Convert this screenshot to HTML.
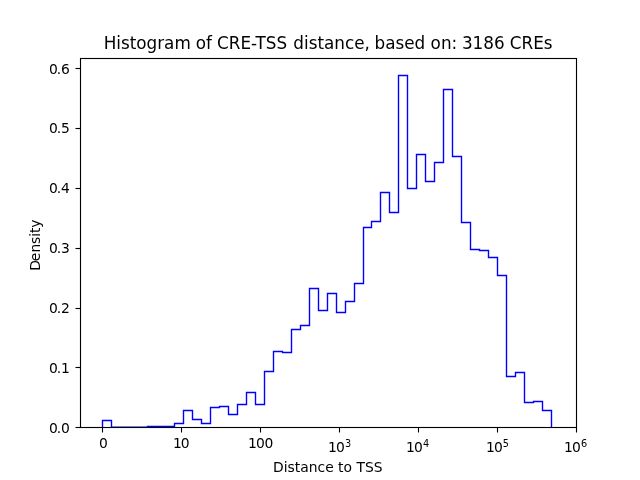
<!DOCTYPE html>
<html lang="en"><head><meta charset="utf-8"><title>Histogram of CRE-TSS distance</title>
<style>
html,body{margin:0;padding:0;background:#fff;overflow:hidden}
svg{display:block}
text{font-family:"DejaVu Sans","Liberation Sans",sans-serif;fill:#000;white-space:pre}
.t10{font-size:13.889px}
.t7{font-size:9.722px}
.t12{font-size:16.806px}
</style></head><body>
<svg width="640" height="480" viewBox="0 0 640 480">
<rect x="0" y="0" width="640" height="480" fill="#ffffff"/>
<path d="M102.5 427.3 L102.5 420.5 L111.5 420.5 L111.5 427.3 L120.5 427.3 L129.5 427.3 L138.5 427.3 L147.5 427.3 L147.5 426.5 L156.5 426.5 L165.5 426.5 L174.5 426.5 L174.5 423.5 L183.5 423.5 L183.5 410.5 L192.5 410.5 L192.5 419.5 L201.5 419.5 L201.5 423.5 L210.5 423.5 L210.5 407.5 L219.5 407.5 L219.5 406.5 L228.5 406.5 L228.5 414.5 L237.5 414.5 L237.5 404.5 L246.5 404.5 L246.5 392.5 L255.5 392.5 L255.5 404.5 L264.5 404.5 L264.5 371.5 L273.5 371.5 L273.5 351.5 L282.5 351.5 L282.5 352.5 L291.5 352.5 L291.5 329.5 L300.5 329.5 L300.5 325.5 L309.5 325.5 L309.5 288.5 L318.5 288.5 L318.5 310.5 L327.5 310.5 L327.5 293.5 L336.5 293.5 L336.5 312.5 L345.5 312.5 L345.5 301.5 L354.5 301.5 L354.5 283.5 L363.5 283.5 L363.5 227.5 L371.5 227.5 L371.5 221.5 L380.5 221.5 L380.5 192.5 L389.5 192.5 L389.5 212.5 L398.5 212.5 L398.5 75.5 L407.5 75.5 L407.5 188.5 L416.5 188.5 L416.5 154.5 L425.5 154.5 L425.5 181.5 L434.5 181.5 L434.5 162.5 L443.5 162.5 L443.5 89.5 L452.5 89.5 L452.5 156.5 L461.5 156.5 L461.5 222.5 L470.5 222.5 L470.5 249.5 L479.5 249.5 L479.5 250.5 L488.5 250.5 L488.5 257.5 L497.5 257.5 L497.5 275.5 L506.5 275.5 L506.5 376.5 L515.5 376.5 L515.5 372.5 L524.5 372.5 L524.5 402.5 L533.5 402.5 L533.5 401.5 L542.5 401.5 L542.5 410.5 L551.5 410.5 L551.5 427.3" fill="none" stroke="#0000ff" stroke-width="1.389" stroke-linejoin="miter" stroke-linecap="butt"/>
<g stroke="#000" stroke-width="1.111" fill="none">
<line x1="102.5" y1="427.5" x2="102.5" y2="432.50"/>
<line x1="181.5" y1="427.5" x2="181.5" y2="432.50"/>
<line x1="260.5" y1="427.5" x2="260.5" y2="432.50"/>
<line x1="339.5" y1="427.5" x2="339.5" y2="432.50"/>
<line x1="418.5" y1="427.5" x2="418.5" y2="432.50"/>
<line x1="497.5" y1="427.5" x2="497.5" y2="432.50"/>
<line x1="576.5" y1="427.5" x2="576.5" y2="432.50"/>
<line x1="80.5" y1="427.5" x2="75.50" y2="427.5"/>
<line x1="80.5" y1="367.5" x2="75.50" y2="367.5"/>
<line x1="80.5" y1="308.5" x2="75.50" y2="308.5"/>
<line x1="80.5" y1="248.5" x2="75.50" y2="248.5"/>
<line x1="80.5" y1="188.5" x2="75.50" y2="188.5"/>
<line x1="80.5" y1="128.5" x2="75.50" y2="128.5"/>
<line x1="80.5" y1="68.5" x2="75.50" y2="68.5"/>
<rect x="80.5" y="58.5" width="496.0" height="369.0" stroke-linejoin="miter"/>
</g>
<text class="t10" x="99.05" y="448.0">0</text>
<text class="t10" x="172.9 180.85" y="448.0">10</text>
<text class="t10" x="248.1 255.9 264.5" y="448.0">100</text>
<text class="t10" x="328.00 335.90" y="452.0">10<tspan class="t7" x="345.00" dy="-5.17">3</tspan></text>
<text class="t10" x="406.00 413.90" y="452.0">10<tspan class="t7" x="423.00" dy="-5.17">4</tspan></text>
<text class="t10" x="486.00 493.90" y="452.0">10<tspan class="t7" x="502.75" dy="-5.17">5</tspan></text>
<text class="t10" x="564.00 571.90" y="452.0">10<tspan class="t7" x="580.90" dy="-5.17">6</tspan></text>
<text class="t10" x="48.9 56.8 61.1" y="432.7">0.0</text>
<text class="t10" x="48.9 56.8 61.1" y="372.7">0.1</text>
<text class="t10" x="48.9 56.8 61.1" y="312.7">0.2</text>
<text class="t10" x="48.9 56.8 61.1" y="252.7">0.3</text>
<text class="t10" x="48.9 56.8 61.1" y="192.7">0.4</text>
<text class="t10" x="48.9 56.8 61.1" y="132.7">0.5</text>
<text class="t10" x="48.9 56.8 61.1" y="73.7">0.6</text>
<text class="t10" x="327.8" y="471.5" text-anchor="middle">Distance to TSS</text>
<text class="t10" transform="translate(40.2,243) rotate(-90)" x="-27.78 -18.13 -9.6 -1.07 6.3 10.06 15.37" y="0">Density</text>
<text class="t12" x="103.64" y="49">Histogram <tspan dx="-0.3">of </tspan><tspan dx="-0.3">CRE-TSS </tspan><tspan dx="0.8">distance, </tspan><tspan dx="-0.6">based on: </tspan><tspan dx="-0.6">3186 </tspan><tspan dx="-0.3">CREs</tspan></text>
</svg>
</body></html>
